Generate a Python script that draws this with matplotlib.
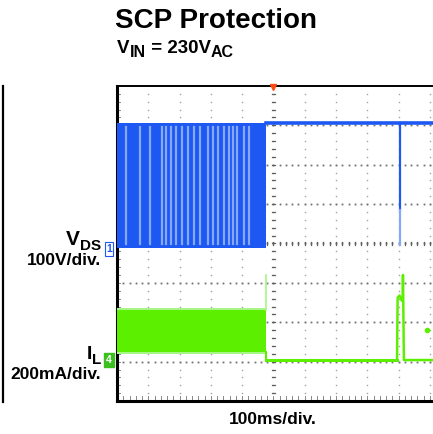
import numpy as np
import matplotlib
matplotlib.use("Agg")
import matplotlib.pyplot as plt
from matplotlib.lines import Line2D

plt.rcParams["font.family"] = ["Liberation Sans", "DejaVu Sans"]
plt.rcParams["font.weight"] = "bold"

# ── Trace data (screen divisions: x 0..10, y 0..8) ──────────────────────────
# V_DS (channel 1): switching burst then hiccup-off
vds_burst_end = 4.76
vds_low, vds_high = 3.88, 7.06
vds_gap_x = [0.29, 0.73, 1.05, 1.44, 1.57, 1.73, 1.88, 2.08, 2.27, 2.46,
             2.65, 2.91, 3.07, 3.23, 3.42, 3.58, 3.71, 3.83, 4.06, 4.22]
vds_dip_x = 9.04
vds_dip_solid, vds_dip_light = 4.85, 3.95

# I_L (channel 4): switching band, spike, then off, restart attempt
il_band_low, il_band_high = 1.25, 2.30
il_off_level = 1.04
il_spike_top = 3.20
il_restart_x = [8.95, 8.97, 9.03, 9.10, 9.13, 9.14, 9.17, 10.1]
il_restart_y = [1.04, 2.62, 2.68, 2.55, 2.60, 3.20, 1.04, 1.04]
il_dot = (9.90, 1.80)

BLUE = "#1d58f2"
BLUE_LIGHT = "#86a8f8"
GREEN = "#5cf000"
GREEN_LIGHT = "#a6f585"
XMAX = 10.1

fig = plt.figure(figsize=(4.33, 4.34), dpi=100)
ax = fig.add_axes([117 / 433, 33 / 434, 316 / 433, 315 / 434])
ax.set_xlim(0, XMAX)
ax.set_ylim(0, 8)
ax.set_xticks([]); ax.set_yticks([])
ax.spines["right"].set_visible(False)
ax.spines["left"].set_linewidth(2.2)
ax.spines["bottom"].set_linewidth(2.2)
ax.spines["top"].set_linewidth(1.4)

# graticule dots
for gx in range(1, 11):
    ys = np.arange(0.2, 8, 0.2)
    ax.plot(np.full_like(ys, gx), ys, linestyle="none", marker="s", markersize=1.0,
            color="#a0a0a0", markeredgewidth=0, zorder=1)
for gy in range(1, 8):
    xs = np.arange(0.2, XMAX, 0.2)
    ax.plot(xs, np.full_like(xs, gy), linestyle="none", marker="s", markersize=1.3,
            color="#707070", markeredgewidth=0, zorder=1)
# center cross and border ticks
for yy in np.arange(0.2, 8, 0.2):
    ax.plot([4.94, 5.06], [yy, yy], color="#606060", lw=0.9, zorder=1)
    ax.plot([0.02, 0.11], [yy, yy], color="#888888", lw=0.7, zorder=1)
for xx in np.arange(0.2, XMAX, 0.2):
    ax.plot([xx, xx], [3.95, 4.05], color="#606060", lw=0.9, zorder=1)
    ax.plot([xx, xx], [0.03, 0.12], color="#888888", lw=0.7, zorder=1)

# V_DS trace
ax.fill_between([0, vds_burst_end], vds_low, vds_high, color=BLUE, lw=0, zorder=3)
for gx in vds_gap_x:
    ax.plot([gx, gx], [vds_low + 0.1, vds_high - 0.1], color=BLUE_LIGHT, lw=1.6, zorder=4)
ax.plot([vds_burst_end, XMAX], [vds_high, vds_high], color=BLUE, lw=2.6, zorder=3)
ax.plot([vds_dip_x, vds_dip_x], [vds_dip_solid, vds_high], color=BLUE, lw=1.6, zorder=3)
ax.plot([vds_dip_x, vds_dip_x], [vds_dip_light, vds_dip_solid], color=BLUE_LIGHT, lw=1.6, zorder=3)

# I_L trace
ax.fill_between([0, vds_burst_end], il_band_low - 0.06, il_band_high + 0.06,
                color=GREEN_LIGHT, lw=0, zorder=3)
ax.fill_between([0, vds_burst_end], il_band_low, il_band_high, color=GREEN, lw=0, zorder=3)
ax.plot([vds_burst_end, vds_burst_end], [il_band_high, il_spike_top], color=GREEN_LIGHT, lw=1.2, zorder=3)
ax.plot([vds_burst_end, vds_burst_end], [il_off_level, il_band_low], color=GREEN, lw=1.5, zorder=3)
ax.plot([vds_burst_end, il_restart_x[0]], [il_off_level, il_off_level], color=GREEN, lw=2.2, zorder=3)
ax.plot(il_restart_x, il_restart_y, color=GREEN, lw=1.8, zorder=3)
ax.plot(*il_dot, marker="o", markersize=3, color=GREEN, zorder=3)

# trigger marker
ax.plot(5, 7.97, marker="v", markersize=4, color="#ff4a10", clip_on=False, zorder=5)


# ── labels ──────────────────────────────────────────────────────────────────
def fy(py):
    return 1 - py / 434


renderer = fig.canvas.get_renderer()


def sub_label(x_px, base_px, main, sub, size, sub_size, drop_px, ha="left"):
    """Main text followed by a large subscript; x_px is left or right edge."""
    t1 = fig.text(0, fy(base_px), main, fontsize=size, va="baseline")
    t2 = fig.text(0, fy(base_px + drop_px), sub, fontsize=sub_size, va="baseline")
    w1 = t1.get_window_extent(renderer).width
    w2 = t2.get_window_extent(renderer).width
    x0 = x_px if ha == "left" else x_px - w1 - w2
    t1.set_x(x0 / 433)
    t2.set_x((x0 + w1) / 433)
    return x0 + w1 + w2


fig.text(216 / 433, fy(28), "SCP Protection", ha="center", va="baseline", fontsize=20)
x_end = sub_label(117, 53, "V", "IN", 13.5, 11.5, 4)
x_end = sub_label(x_end, 53, " = 230V", "AC", 13.5, 11.5, 4)

sub_label(101, 245, "V", "DS", 15, 11, 5, ha="right")
fig.text(101 / 433, fy(265), "100V/div.", ha="right", va="baseline", fontsize=12.5)
sub_label(101, 359, "I", "L", 14, 11, 5, ha="right")
fig.text(101 / 433, fy(379), "200mA/div.", ha="right", va="baseline", fontsize=12.5)
fig.text(273 / 433, fy(424), "100ms/div.", ha="center", va="baseline", fontsize=12.5)

# channel markers
fig.text(109 / 433, fy(249), "1", ha="center", va="center", fontsize=7.5, color=BLUE,
         bbox=dict(boxstyle="square,pad=0.15", fc="white", ec=BLUE, lw=0.8))
fig.text(109 / 433, fy(360), "4", ha="center", va="center", fontsize=7.5, color="white",
         bbox=dict(boxstyle="square,pad=0.2", fc="#3cc020", ec="#3cc020"))

# left edge rule
fig.add_artist(Line2D([2.5 / 433, 2.5 / 433], [fy(86), fy(402)], color="black", lw=1.6))

fig.savefig("out.png", dpi=100)
